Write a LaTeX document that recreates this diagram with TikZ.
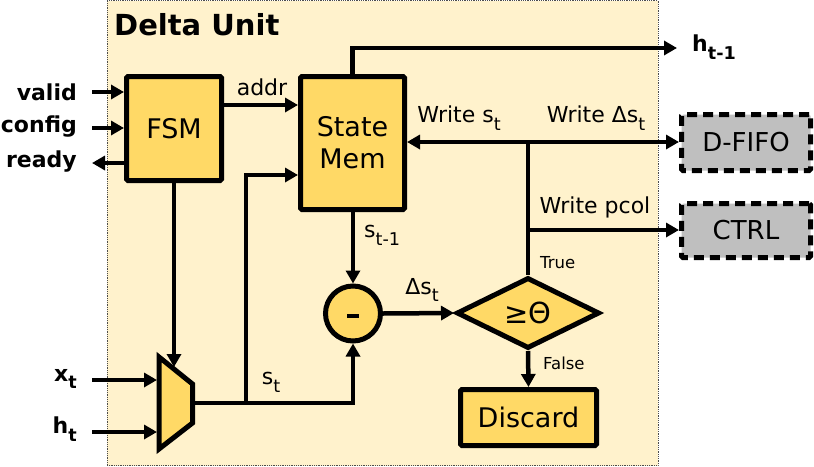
\documentclass[tikz,border=0pt]{standalone}
\usepackage{fontspec}
\setmainfont{DejaVu Sans}
\usetikzlibrary{arrows.meta,shapes.geometric}
\definecolor{bgy}{HTML}{FFF2CC}
\definecolor{boxy}{HTML}{FFD966}
\definecolor{extg}{HTML}{BFBFBF}
\newcommand\dsub[1]{\raisebox{-0.35em}{\scalebox{0.8}{#1}}}
\begin{document}
\begin{tikzpicture}[x=1pt,y=-1pt,
  blk/.style={draw=black, line width=5pt, fill=boxy, rounded corners=1.5pt, inner sep=0pt},
  ext/.style={draw=black, line width=5pt, fill=extg, dash pattern=on 10pt off 6pt, rounded corners=1.5pt, inner sep=0pt, font=\fontsize{26}{30}\selectfont},
  wire/.style={line width=4.5pt},
  conn/.style={line width=4.5pt, -{Triangle[length=13pt,width=14pt]}},
  lbl/.style={font=\fontsize{22}{26}\selectfont, inner sep=0pt},
  small/.style={font=\fontsize{16.5}{19}\selectfont, inner sep=0pt},
  io/.style={font=\bfseries\fontsize{22}{26}\selectfont, inner sep=0pt, anchor=east},
  big/.style={font=\fontsize{27}{32}\selectfont}
]
\useasboundingbox (0,0) rectangle (814,466);
% background unit
\node[draw=black!70, densely dotted, line width=0.8pt, fill=bgy, minimum width=551pt, minimum height=465pt, anchor=north west, inner sep=0pt, outer sep=0pt] (unit) at (107,0.5) {};
\node[anchor=west, font=\bfseries\fontsize{29}{32}\selectfont, inner sep=0pt] (title) at (114,25) {Delta Unit};

% blocks
\node[blk, big, minimum width=95pt, minimum height=104pt] (fsm) at (174,128.5) {FSM};
\node[blk, big, minimum width=104pt, minimum height=133pt, align=center] (sm) at (352.5,143) {State\\Mem};
\node[circle, draw=black, line width=5pt, fill=boxy, minimum size=55pt, inner sep=0pt] (sub) at (353,313.5) {};
\fill[black] (347,314) rectangle (359,318);
\node[diamond, draw=black, line width=5pt, fill=boxy, aspect=2, minimum width=143pt, minimum height=71pt, inner sep=0pt, font=\fontsize{29}{32}\selectfont] (dec) at (528,313) {≥Θ};
\node[blk, big, minimum width=136pt, minimum height=56pt] (disc) at (528.5,417.5) {Discard};
\node[ext, minimum width=129pt, minimum height=56pt] (dfifo) at (746,142.5) {D-FIFO};
\node[ext, minimum width=129pt, minimum height=54pt] (ctrl) at (746,230.5) {CTRL};

% mux
\draw[line width=5pt, fill=boxy, line join=miter] (159,357) -- (192.5,384) -- (192.5,423) -- (159,449) -- cycle;
\coordinate (muxout) at (192.5,403);
\coordinate (muxin1) at (157,380);
\coordinate (muxin2) at (157,432);
\coordinate (muxsel) at (174,367);

% io labels
\node[io] (lvalid) at (77,92) {valid};
\node[io] (lconfig) at (77,127) {config};
\node[io] (lready) at (77,162) {ready};
\node[io] (lxt) at (77,379) {x\dsub{t}};
\node[io] (lht) at (77,429) {h\dsub{t}};
\node[font=\bfseries\fontsize{22}{26}\selectfont, inner sep=0pt, anchor=west] (lhout) at (692,47) {h\dsub{t-1}};

\coordinate (vin) at (92,92);
\coordinate (cin) at (92,128);
\coordinate (rout) at (92,163);
\coordinate (xin) at (92,380);
\coordinate (hin) at (92,432);
\coordinate (addrY) at (0,105);
\coordinate (split) at (246,403);
\coordinate (smin) at (246,175);
\coordinate (j) at (528,142);
\coordinate (j2) at (528,230);
\coordinate (htop) at (352.5,48);
\coordinate (hend) at (677,48);

% connectors
\draw[conn] (vin) -- (vin -| fsm.west);
\draw[conn] (cin) -- (cin -| fsm.west);
\draw[conn] (rout -| fsm.west) -- (rout);
\draw[conn] (addrY -| fsm.east) -- (addrY -| sm.west);
\node[lbl] (laddr) at (262,87) {addr};
\draw[conn] (fsm.south) -- (muxsel);
\draw[conn] (xin) -- (muxin1);
\draw[conn] (hin) -- (muxin2);
\draw[conn] (muxout) -- (sub.south |- muxout) -- (sub.south);
\draw[conn] (split) -- (smin) -- (smin -| sm.west);
\node[lbl] (lst) at (271,382) {s\dsub{t}};
\draw[conn] (sm.south -| sub.north) -- (sub.north);
\node[lbl, anchor=west] (lstm) at (364,235) {s\dsub{t-1}};
\draw[conn] (sub.east) -- (dec.west);
\node[lbl] (lds) at (422,290) {Δs\dsub{t}};
\draw[conn] (dec.south) -- (disc.north);
\node[small, anchor=west] (lfalse) at (543,363) {False};
\draw[wire] (dec.north) -- (j);
\node[small, anchor=west] (ltrue) at (540,263) {True};
\draw[conn] (j) -- (j -| sm.east);
\draw[conn] (j) -- (j -| dfifo.west);
\draw[conn] (j2) -- (j2 -| ctrl.west);
\node[lbl] (lws) at (459,118) {Write s\dsub{t}};
\node[lbl] (lwds) at (596,118) {Write Δs\dsub{t}};
\node[lbl] (lwp) at (595,207) {Write pcol};
\draw[conn] (sm.north) -- (htop) -- (hend);
\end{tikzpicture}
\end{document}
